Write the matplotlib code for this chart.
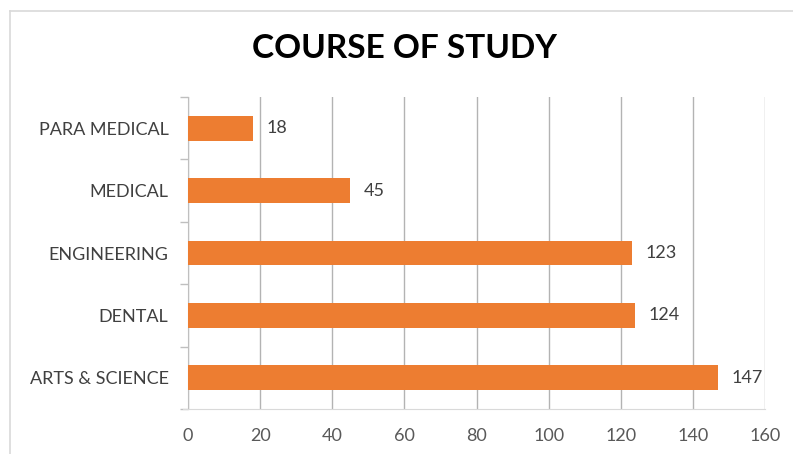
import matplotlib
matplotlib.use("Agg")
import matplotlib.pyplot as plt
import numpy as np
from matplotlib.lines import Line2D

courses = ["ARTS & SCIENCE", "DENTAL", "ENGINEERING", "MEDICAL", "PARA MEDICAL"]
counts = [147, 124, 123, 45, 18]
xticks = [0, 20, 40, 60, 80, 100, 120, 140, 160]

plt.rcParams['font.family'] = ['Lato', 'DejaVu Sans']

fig = plt.figure(figsize=(7.93, 4.54), dpi=100)
ax = fig.add_axes([188 / 793, 45 / 454, 577 / 793, 312 / 454])

y = np.arange(len(courses))
ax.barh(y, counts, height=0.4, color="#ED7D31", zorder=3)

for yi, v in zip(y, counts):
    ax.text(v + 3.8, yi, str(v), va="center", ha="left", fontsize=13, color="#404040")

ax.set_xlim(0, 160)
ax.set_ylim(-0.5, len(courses) - 0.5)
ax.set_xticks(xticks)
ax.set_xticklabels([str(t) for t in xticks], fontsize=13, color="#595959")
ax.set_yticks(y)
ax.set_yticklabels(courses, fontsize=13, color="#404040")
ax.set_yticks(np.arange(-0.5, len(courses)), minor=True)

ax.tick_params(axis="x", length=0, pad=14)
ax.tick_params(axis="y", which="major", length=0, pad=14)
ax.tick_params(axis="y", which="minor", length=6, color="#bfbfbf", width=1)

ax.grid(axis="x", color="#b3b3b3", linewidth=1, zorder=0)
for side in ["top", "right"]:
    ax.spines[side].set_visible(False)
ax.spines["left"].set_color("#bfbfbf")
ax.spines["bottom"].set_color("#d9d9d9")
ax.spines["bottom"].set_bounds(-1.5, 160)

fig.text(405 / 793, 1 - 49 / 454, "COURSE OF STUDY", ha="center", va="center",
         fontsize=24, fontweight="bold", color="#000000")

# chart frame (top and left edges)
fig.add_artist(Line2D([10 / 793, 1], [1 - 11 / 454, 1 - 11 / 454], color="#d9d9d9", lw=1.2))
fig.add_artist(Line2D([10 / 793, 10 / 793], [0, 1 - 11 / 454], color="#d9d9d9", lw=1.2))

fig.savefig("out.png", dpi=100, facecolor="white")
